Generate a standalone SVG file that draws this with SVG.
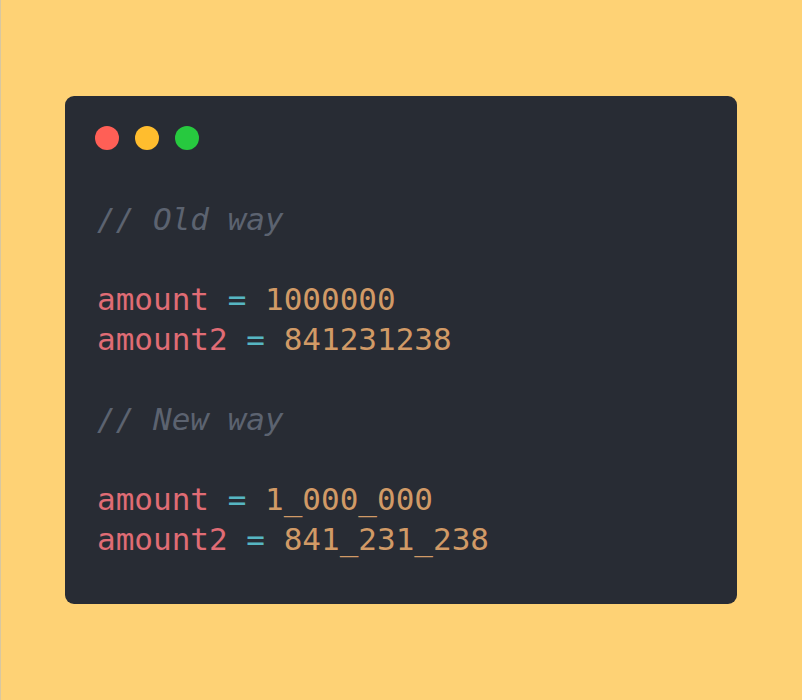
<svg xmlns="http://www.w3.org/2000/svg" width="802" height="700" viewBox="0 0 802 700">
<style>
.code{font-family:"DejaVu Sans Mono","Liberation Mono",monospace;font-size:31px;white-space:pre}
.cm{fill:#5C6370;font-style:italic}
.v{fill:#E06C75}
.o{fill:#56B6C2}
.n{fill:#D19A66}
</style>
<rect x="0" y="0" width="802" height="700" fill="#FED275"/>
<rect x="0" y="0" width="1" height="700" fill="#D8C7A0"/>
<g id="window">
<rect x="65" y="96" width="672" height="508" rx="9" fill="#282C34"/>
<circle cx="107" cy="138" r="12" fill="#FF5F56"/>
<circle cx="147" cy="138" r="12" fill="#FFBD2E"/>
<circle cx="187" cy="138" r="12" fill="#27C93F"/>
</g>
<g id="code" class="code">
<text x="97" y="230" class="cm">// Old way</text>
<text x="97" y="310"><tspan class="v">amount</tspan><tspan class="o"> = </tspan><tspan class="n">1000000</tspan></text>
<text x="97" y="350"><tspan class="v">amount2</tspan><tspan class="o"> = </tspan><tspan class="n">841231238</tspan></text>
<text x="97" y="430" class="cm">// New way</text>
<text x="97" y="510"><tspan class="v">amount</tspan><tspan class="o"> = </tspan><tspan class="n">1_000_000</tspan></text>
<text x="97" y="550"><tspan class="v">amount2</tspan><tspan class="o"> = </tspan><tspan class="n">841_231_238</tspan></text>
</g>
</svg>
